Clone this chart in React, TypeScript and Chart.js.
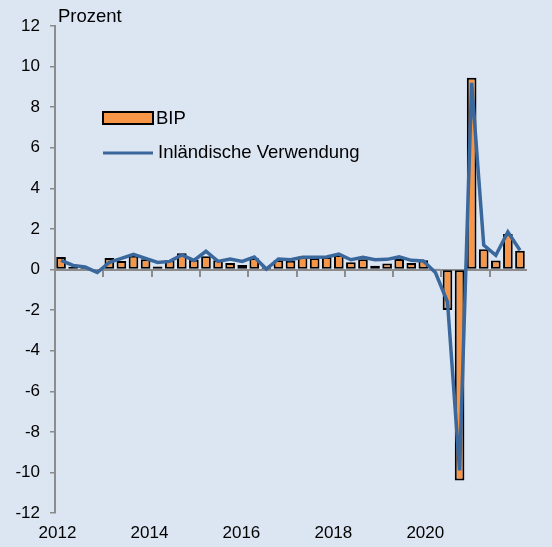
import React, { useEffect, useRef } from "react";
import { Chart, registerables } from "chart.js";

Chart.register(...registerables);

// ---- Data ----
const years = [2012, 2013, 2014, 2015, 2016, 2017, 2018, 2019, 2020, 2021];
const quarterNames = ["Q1", "Q2", "Q3", "Q4"];
const lastYearQuarters = 3; // 2021 up to Q3

const categories: string[] = [];
years.forEach((y, yi) => {
  const n = yi === years.length - 1 ? lastYearQuarters : 4;
  for (let q = 0; q < n; q++) categories.push(`${y}${quarterNames[q]}`);
});

// BIP (GDP), quarter-on-quarter change in %
const bip = [
  0.62, 0.12, 0.1, -0.05,
  0.57, 0.42, 0.68, 0.5,
  0.15, 0.45, 0.8, 0.48,
  0.65, 0.45, 0.32, 0.22,
  0.55, 0.1, 0.45, 0.43,
  0.64, 0.57, 0.62, 0.72,
  0.36, 0.5, 0.18, 0.3,
  0.52, 0.32, 0.46, 0.02,
  -2.0, -10.4, 9.45, 1.0,
  0.44, 1.75, 0.92,
];

// Inländische Verwendung (domestic demand), quarter-on-quarter change in %
const inlVerwendung = [
  0.45, 0.2, 0.12, -0.15,
  0.35, 0.55, 0.75, 0.55,
  0.35, 0.4, 0.72, 0.45,
  0.9, 0.4, 0.52, 0.4,
  0.62, 0.02, 0.52, 0.48,
  0.6, 0.6, 0.62, 0.76,
  0.48, 0.6, 0.48, 0.5,
  0.62, 0.45, 0.42, -0.15,
  -1.6, -9.9, 9.2, 1.2,
  0.7, 1.85, 0.95,
];

const yearTickLabels = [2012, 2014, 2016, 2018, 2020];
const yMin = -12;
const yMax = 12;
const yStep = 2;

const seriesNames = ["BIP", "Inländische Verwendung"];
const unitLabel = "Prozent";

// ---- Styles ----
const FONT = '"Liberation Sans", Arial, Helvetica, sans-serif';
const BG = "#DCE6F3";
const ORANGE = "#F79646";
const BLUE = "#3A679C";
const AXIS = "#8C8C8C";

const overlayPlugin = {
  id: "overlay",
  afterDraw(chart: any) {
    const ctx = chart.ctx as CanvasRenderingContext2D;
    ctx.save();
    ctx.font = `18.5px ${FONT}`;
    ctx.fillStyle = "#000";
    ctx.textBaseline = "middle";
    ctx.textAlign = "left";
    ctx.fillText(unitLabel, 58, 16.5);

    // legend
    const ds = chart.data.datasets;
    ctx.fillStyle = ds[0].backgroundColor;
    ctx.fillRect(103, 112, 50, 12);
    ctx.strokeStyle = "#000";
    ctx.lineWidth = 2;
    ctx.strokeRect(103, 112, 50, 12);
    ctx.fillStyle = "#000";
    ctx.fillText(ds[0].label, 156, 118.5);
    ctx.strokeStyle = ds[1].borderColor;
    ctx.lineWidth = 3;
    ctx.beginPath();
    ctx.moveTo(103, 153);
    ctx.lineTo(153, 153);
    ctx.stroke();
    ctx.fillStyle = "#000";
    ctx.fillText(ds[1].label, 158, 152.5);
    ctx.restore();
  },
};

export default function App() {
  const ref = useRef<HTMLCanvasElement | null>(null);

  useEffect(() => {
    document.body.style.margin = "0";
    document.body.style.background = BG;
    const canvas = ref.current;
    if (!canvas) return;
    const chart = new Chart(canvas, {
      type: "bar",
      data: {
        labels: categories,
        datasets: [
          {
            type: "bar",
            label: seriesNames[0],
            data: bip,
            backgroundColor: ORANGE,
            borderColor: "#000",
            borderWidth: 2,
            borderSkipped: false,
            barPercentage: 0.8,
            categoryPercentage: 1,
            xAxisID: "x",
            yAxisID: "y",
            order: 2,
          } as any,
          {
            type: "line",
            label: seriesNames[1],
            data: inlVerwendung,
            borderColor: BLUE,
            backgroundColor: BLUE,
            borderWidth: 3.5,
            pointRadius: 0,
            tension: 0,
            fill: false,
            xAxisID: "x",
            yAxisID: "y",
            order: 1,
          } as any,
        ],
      },
      options: {
        responsive: false,
        animation: false,
        layout: { padding: { top: 26, right: 26, left: 0, bottom: 0 } },
        plugins: {
          legend: { display: false },
          tooltip: { enabled: false },
        },
        scales: {
          x: {
            type: "category",
            position: { y: 0 } as any,
            offset: true,
            ticks: { display: false },
            grid: {
              offset: true,
              drawOnChartArea: false,
              drawTicks: true,
              tickLength: 6,
              lineWidth: 2,
              color: AXIS,
              tickColor: (c: any) =>
                typeof c.index === "number" && c.index % 4 === 0 ? AXIS : "rgba(0,0,0,0)",
            },
            border: { color: AXIS, width: 2 },
            afterFit: (s: any) => {
              s.height = 0;
            },
          } as any,
          x2: {
            type: "linear",
            axis: "x",
            position: "bottom",
            offset: false,
            min: 2011.9455,
            max: 2022.19,
            afterBuildTicks: (s: any) => {
              s.ticks = yearTickLabels.map((v) => ({ value: v }));
            },
            ticks: {
              color: "#000",
              font: { size: 17, family: FONT },
              padding: 10,
              maxRotation: 0,
              autoSkip: false,
              callback: (v: any) => String(v),
            },
            grid: { display: false, drawTicks: false, offset: false },
            border: { display: false },
            afterFit: (s: any) => {
              s.height = 34;
            },
          } as any,
          y: {
            type: "linear",
            min: yMin,
            max: yMax,
            ticks: {
              stepSize: yStep,
              color: "#000",
              font: { size: 17, family: FONT },
              padding: 10,
            },
            grid: {
              drawOnChartArea: false,
              drawTicks: true,
              tickLength: 5,
              lineWidth: 1.5,
              color: AXIS,
            },
            border: { color: AXIS, width: 2 },
            afterFit: (s: any) => {
              s.width = 55;
            },
          },
        },
      },
      plugins: [overlayPlugin],
    });
    return () => chart.destroy();
  }, []);

  return (
    <div style={{ width: 552, height: 547, background: BG }}>
      <canvas ref={ref} width={552} height={547} style={{ display: "block" }} />
    </div>
  );
}
